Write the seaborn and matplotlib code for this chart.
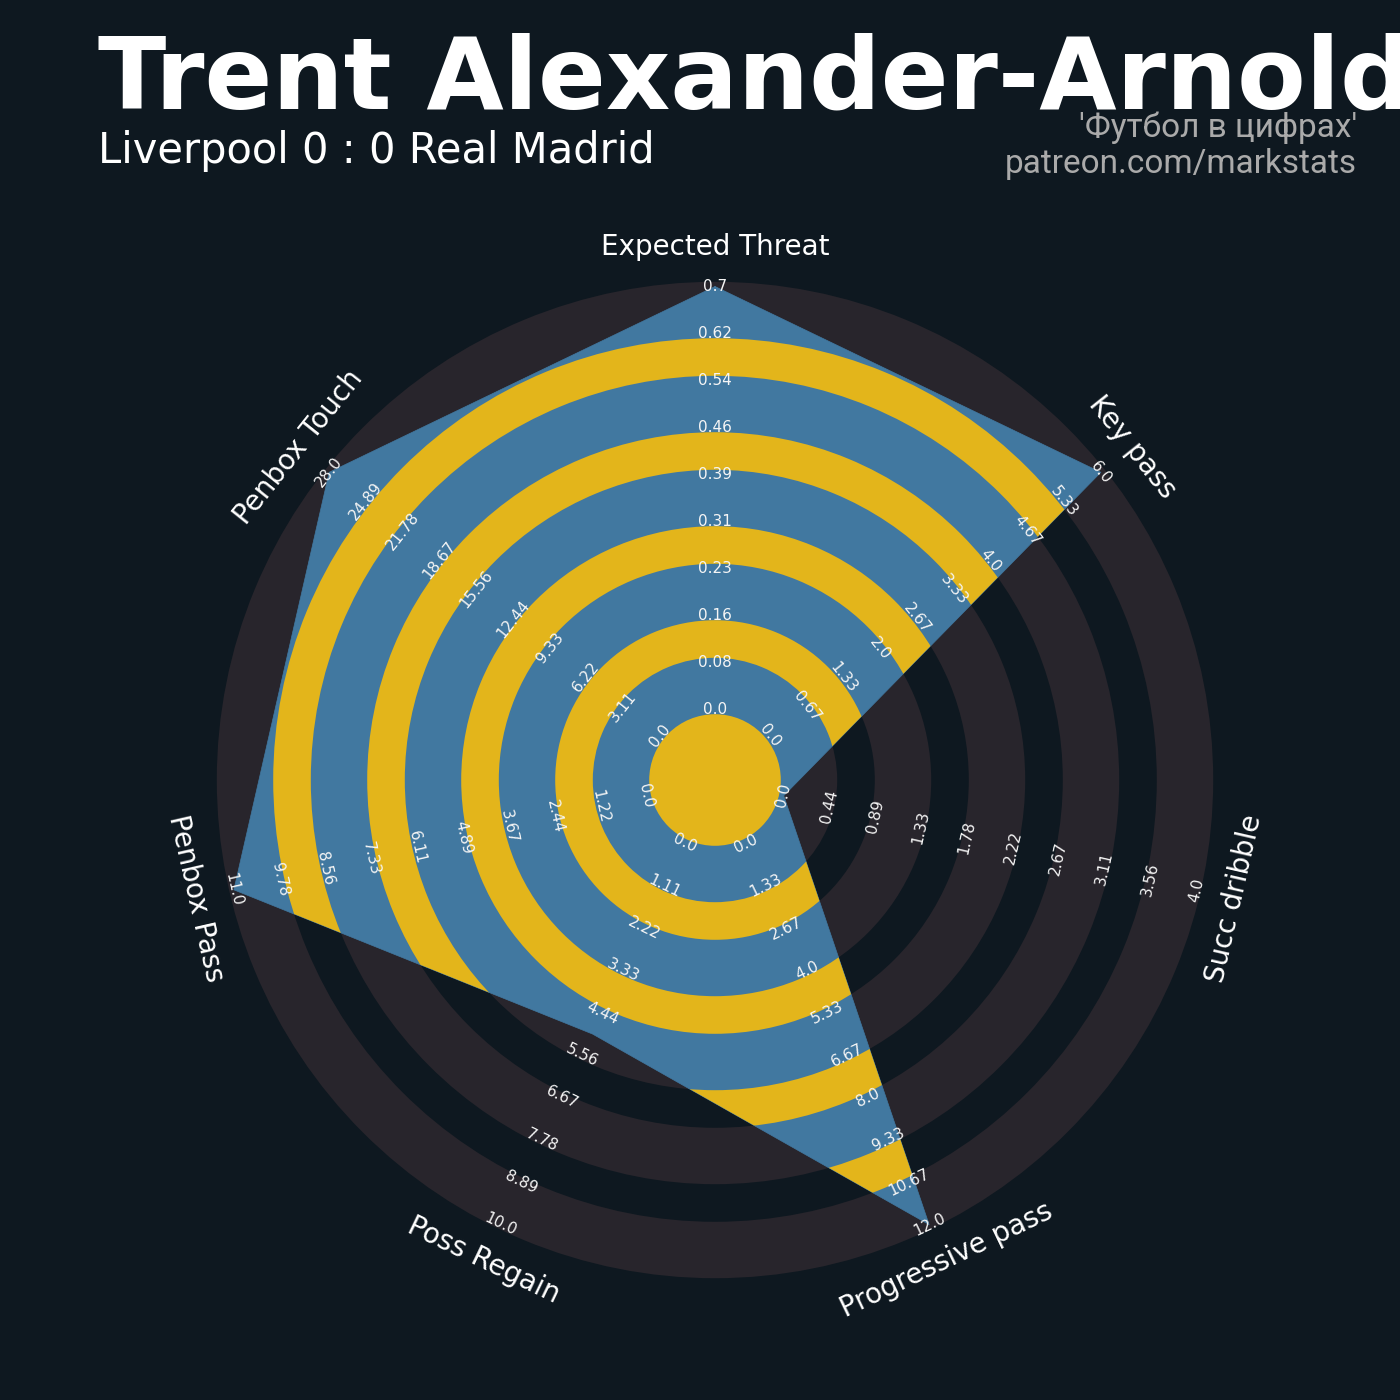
import numpy as np
import matplotlib
matplotlib.use("Agg")
import matplotlib.pyplot as plt
from matplotlib.patches import Circle, Wedge
import seaborn as sns

params = ["Expected Threat", "Key pass", "Succ dribble", "Progressive pass",
          "Poss Regain", "Penbox Pass", "Penbox Touch"]
low = [0, 0, 0, 0, 0, 0, 0]
high = [0.6975, 6, 4, 12, 10, 11, 28]
values = [0.6975, 6, 0, 12, 5, 11, 28]

title = "Trent Alexander-Arnold"
subtitle = "Liverpool 0 : 0 Real Madrid"
credit = ["'Футбол в цифрах'", "patreon.com/markstats"]

BG = "#0e1820"
RING = "#28252c"
BLUE = "#4178a0"
GOLD = "#e3b51b"

N_LABELS = 10
R0 = 1.5          # radius of the lowest value
CENTER_R = 1.4
BAND = 1.2
GAP = 0.8
UNIT = 47.0       # px per ring step


def scale(v, lo, hi):
    return R0 + (N_LABELS - 1) * (v - lo) / (hi - lo)


def text_rotation(theta):
    rot = theta - 90
    while rot <= -90:
        rot += 180
    while rot > 90:
        rot -= 180
    return rot


sns.set_theme(style="dark", rc={"axes.facecolor": BG, "figure.facecolor": BG})
plt.rcParams["font.family"] = ["DejaVu Sans"]

fig = plt.figure(figsize=(14, 14), dpi=100)
ax = fig.add_axes([0, 0, 1, 1])
ax.set_xlim(-715 / UNIT, (1400 - 715) / UNIT)
ax.set_ylim(-(1400 - 780) / UNIT, 780 / UNIT)
ax.set_aspect("equal")
ax.axis("off")

# background rings
ax.add_patch(Circle((0, 0), CENTER_R, color=RING, lw=0))
for j in range(5):
    ax.add_patch(Wedge((0, 0), CENTER_R + BAND + 2 * j, 0, 360, width=BAND, color=RING, lw=0))

angles = 90 - np.arange(len(params)) * 360 / len(params)
rad = np.radians(angles)
r_vals = np.array([scale(v, lo, hi) for v, lo, hi in zip(values, low, high)])
xs = r_vals * np.cos(rad)
ys = r_vals * np.sin(rad)

poly = ax.fill(xs, ys, color=BLUE, lw=0, zorder=2)[0]
sns.lineplot(x=np.append(xs, xs[0]), y=np.append(ys, ys[0]), sort=False, estimator=None,
             color=BLUE, lw=0.5, ax=ax, zorder=2)

# gold rings inside the polygon, where the gaps are outside
gold = [Circle((0, 0), CENTER_R, color=GOLD, lw=0, zorder=3)]
for j in range(4):
    gold.append(Wedge((0, 0), CENTER_R + BAND + GAP + 2 * j, 0, 360, width=GAP,
                      color=GOLD, lw=0, zorder=3))
for p in gold:
    ax.add_patch(p)
    p.set_clip_path(poly)

# range labels
for th, lo, hi in zip(angles, low, high):
    rot = text_rotation(th)
    ticks = np.linspace(lo, hi, N_LABELS)
    for k, t in enumerate(ticks):
        r = R0 + k
        ax.text(r * np.cos(np.radians(th)), r * np.sin(np.radians(th)),
                str(float(np.round(t, 2))), rotation=rot, rotation_mode="anchor",
                ha="center", va="center", color="#f5f5f5", fontsize=11, zorder=5)

# parameter labels
for th, name in zip(angles, params):
    r = 533 / UNIT
    ax.text(r * np.cos(np.radians(th)), r * np.sin(np.radians(th)), name,
            rotation=text_rotation(th), rotation_mode="anchor",
            ha="center", va="center", color="white", fontsize=20, zorder=5)

fig.text(98 / 1400, 1 - 108 / 1400, title, ha="left", va="baseline",
         fontsize=72, fontweight="bold", color="white")
fig.text(98 / 1400, 1 - 163 / 1400, subtitle, ha="left", va="baseline",
         fontsize=30, color="white")
fig.text(1357 / 1400, 1 - 137 / 1400, credit[0], ha="right", va="baseline",
         fontsize=24, color="#aaaaaa", family=["Roboto", "DejaVu Sans"])
fig.text(1357 / 1400, 1 - 173 / 1400, credit[1], ha="right", va="baseline",
         fontsize=24, color="#aaaaaa", family=["Roboto", "DejaVu Sans"])

fig.savefig("out.png", dpi=100, facecolor=BG)
